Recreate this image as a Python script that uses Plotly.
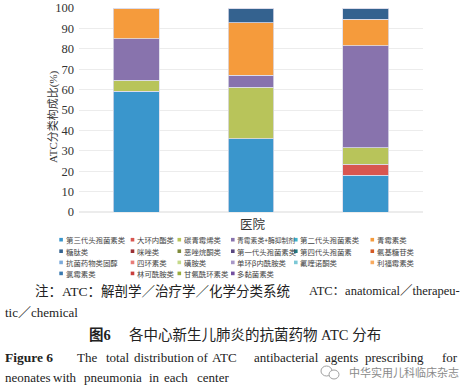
import plotly.graph_objects as go

hospitals = ["医院1", "医院2", "医院3"]

series_names = [
    "第三代头孢菌素类", "大环内酯类", "碳青霉烯类", "青霉素类+酶抑制剂", "第二代头孢菌素类", "青霉素类",
    "糖肽类", "咪唑类", "恶唑烷酮类", "第一代头孢菌素类", "第四代头孢菌素", "氨基糖苷类",
    "抗菌药物类固醇", "四环素类", "磺胺类", "单环β内酰胺类", "氟喹诺酮类", "利福霉素类",
    "氯霉素类", "林可酰胺类", "甘氨酰环素类", "多黏菌素类",
]

series_colors = [
    "#3a96cc", "#d85650", "#b8c45a", "#8873ad", "#3cb4cb", "#f59b3c",
    "#34628f", "#9a3034", "#7e8a3a", "#5a4880", "#1e7b83", "#d45a25",
    "#7dabdb", "#e87c78", "#c5d98a", "#a898c8", "#7cc8d6", "#f8ab60",
    "#3a7ab0", "#c83e3c", "#9aae3e", "#7450a0",
]

# values (%) per series for the three hospitals
v_3rd_ceph = [59.2, 35.8, 18.1]
v_macrolide = [0, 0, 5.3]
v_carbapenem = [5.4, 25.3, 8.2]
v_pen_inhib = [20.4, 5.9, 50.0]
v_2nd_ceph = [0, 0, 0]
v_penicillin = [15.0, 25.7, 13.0]
v_glycopeptide = [0, 7.3, 5.4]
v_zero = [0, 0, 0]

series_values = [
    v_3rd_ceph, v_macrolide, v_carbapenem, v_pen_inhib, v_2nd_ceph, v_penicillin,
    v_glycopeptide, v_zero, v_zero, v_zero, v_zero, v_zero,
    v_zero, v_zero, v_zero, v_zero, v_zero, v_zero,
    v_zero, v_zero, v_zero, v_zero,
]

y_ticks = [0, 10, 20, 30, 40, 50, 60, 70, 80, 90, 100]

W, H = 470, 390
L, R, T, B = 79, 47, 8, 178
PW, PH = W - L - R, H - T - B
Y0 = H - B


def px(x):
    return (x - L) / PW


def py(y):
    return (Y0 - y) / PH


fig = go.Figure()
for name, color, vals in zip(series_names, series_colors, series_values):
    fig.add_trace(go.Bar(
        x=hospitals, y=vals, name=name, showlegend=False,
        marker=dict(color=color, line=dict(color="#dcdcea", width=0.8)),
    ))

SERIF = "Liberation Serif, 'Noto Sans CJK SC', serif"
CJK = "'Noto Sans CJK SC', sans-serif"

annotations = []
shapes = []


def txt(s, x, y, size=13, bold=False, family=SERIF, color="#222", anchor="left", angle=0):
    if bold:
        s = "<b>" + s + "</b>"
    annotations.append(dict(text=s, xref="paper", yref="paper", x=px(x), y=py(y),
                            xanchor=anchor, yanchor="middle", showarrow=False, textangle=angle,
                            font=dict(family=family, size=size, color=color)))


# axis titles
txt("ATC分类构成比(%)", 53, 117, size=11, color="#333", anchor="center", angle=-90)
txt("医院", 253, 223, size=12.5, family=CJK, color="#333", anchor="center")

# manual legend (6 columns x 4 rows)
col_x = [59.3, 130.7, 177.5, 231.0, 294.0, 370.5]
row_y = [239.7, 251.2, 262.4, 273.4]
for i, (name, color) in enumerate(zip(series_names, series_colors)):
    r, c = divmod(i, 6)
    x0, yc = col_x[c], row_y[r]
    shapes.append(dict(type="rect", xref="paper", yref="paper",
                       x0=px(x0), x1=px(x0 + 3.6), y0=py(yc + 1.8), y1=py(yc - 1.8),
                       fillcolor=color, line=dict(width=0)))
    fs = 6.8 if "+" in name else 7.4
    txt(name, x0 + 4.2, yc, size=fs, family=CJK, color="#444")

# caption
txt("注：ATC：解剖学／治疗学／化学分类系统", 33, 291, size=13.5)
txt("ATC：anatomical／therapeu-", 307, 291, size=12.5)
txt("tic／chemical", 3, 312.5, size=13)
txt("图6", 87, 335, size=14.5, bold=True)
txt("各中心新生儿肺炎的抗菌药物 ATC 分布", 127, 335, size=14.5)

fig_words_4 = [("The", 75), ("total", 104), ("distribution", 132), ("of", 195), ("ATC", 210),
               ("antibacterial", 252), ("agents", 323), ("prescribing", 363), ("for", 440)]
txt("Figure 6", 3, 357, size=13.5, bold=True)
for w, x in fig_words_4:
    txt(w, x, 357, size=13)
fig_words_5 = [("neonates", 3), ("with", 51), ("pneumonia", 82), ("in", 147), ("each", 162), ("center", 195)]
for w, x in fig_words_5:
    txt(w, x, 377.5, size=13)

# watermark
txt("中华实用儿科临床杂志", 347, 371.5, size=11, family=CJK, color="#8a8a8a")
shapes.append(dict(type="circle", xref="paper", yref="paper",
                   x0=px(321), x1=px(332), y0=py(376), y1=py(366),
                   line=dict(color="#a0a0a0", width=1)))
shapes.append(dict(type="circle", xref="paper", yref="paper",
                   x0=px(329), x1=px(339), y0=py(379), y1=py(370),
                   line=dict(color="#a0a0a0", width=1), fillcolor="white"))

fig.update_layout(
    width=W, height=H,
    margin=dict(l=L, r=R, t=T, b=B, pad=0),
    barmode="stack", bargap=0.6,
    paper_bgcolor="white", plot_bgcolor="white",
    showlegend=False,
    xaxis=dict(showticklabels=False, ticks="", showgrid=False, showline=False, zeroline=False,
               automargin=False),
    yaxis=dict(range=[0, 100], tickvals=y_ticks, ticktext=[str(v) for v in y_ticks],
               showgrid=True, gridcolor="#ececec", gridwidth=1, zeroline=True, zerolinecolor="#ececec",
               showline=False, ticks="", ticklabelstandoff=4, automargin=False,
               tickfont=dict(family=SERIF, size=12.5, color="#333")),
    annotations=annotations, shapes=shapes,
)

fig.write_html("out.html", config={"displayModeBar": False},
               post_script="document.body.style.margin='0px';")
